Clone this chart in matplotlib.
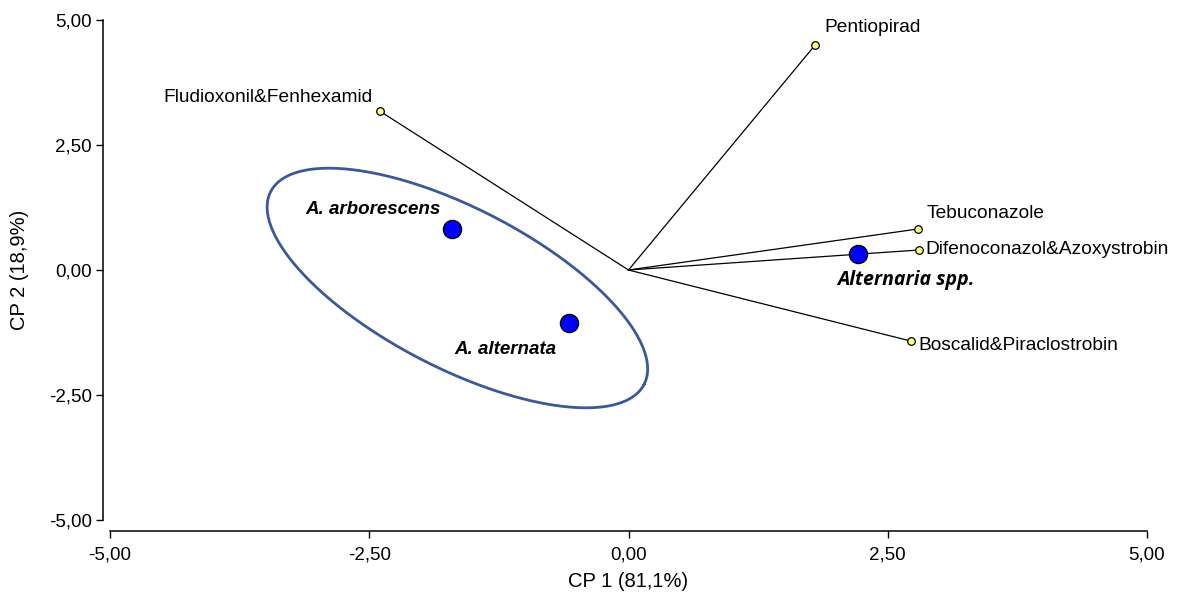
import numpy as np
import matplotlib.pyplot as plt
from matplotlib.ticker import FuncFormatter

plt.rcParams['font.family'] = ['Liberation Sans', 'DejaVu Sans']

# loadings (fungicides)
fung_names = ['Pentiopirad', 'Fludioxonil&Fenhexamid', 'Tebuconazole',
              'Difenoconazol&Azoxystrobin', 'Boscalid&Piraclostrobin']
fung_x = [1.80, -2.40, 2.79, 2.80, 2.72]
fung_y = [4.50, 3.18, 0.82, 0.40, -1.42]

# scores (species)
sp_names = ['A. arborescens', 'A. alternata', 'Alternaria spp.']
sp_x = [-1.70, -0.57, 2.21]
sp_y = [0.82, -1.06, 0.32]

# confidence ellipse around the two species (centre + conjugate semi-axes)
ell_center = (-1.65, -0.36)
ell_u = (1.80, -1.93)
ell_v = (-0.355, -1.42)

fig = plt.figure(figsize=(11.84, 5.94), dpi=100)
ax = fig.add_axes([110 / 1184, 1 - 520 / 594, 1037 / 1184, 500 / 594])

for x, y in zip(fung_x, fung_y):
    ax.plot([0, x], [0, y], color='black', lw=0.9, zorder=2)
ax.scatter(fung_x, fung_y, s=30, color='#FFFF80', edgecolors='black',
           linewidths=0.9, zorder=4)

t = np.linspace(0, 2 * np.pi, 300)
ex = ell_center[0] + np.cos(t) * ell_u[0] + np.sin(t) * ell_v[0]
ey = ell_center[1] + np.cos(t) * ell_u[1] + np.sin(t) * ell_v[1]
ax.plot(ex, ey, color='#3B5998', lw=2.0, zorder=3)

ax.scatter(sp_x, sp_y, s=170, color='#0000FF', edgecolors='black',
           linewidths=1.0, zorder=5)

fs = 13.8
offs = {
    'Pentiopirad': ((9, 18), 'left'),
    'Fludioxonil&Fenhexamid': ((-7, 14), 'right'),
    'Tebuconazole': ((9, 16), 'left'),
    'Difenoconazol&Azoxystrobin': ((7, 0), 'left'),
    'Boscalid&Piraclostrobin': ((8, -5), 'left'),
}
for name, x, y in zip(fung_names, fung_x, fung_y):
    (dx, dy), ha = offs[name]
    ax.annotate(name, (x, y), xytext=(dx, dy), textcoords='offset pixels',
                ha=ha, va='center', fontsize=fs)

ax.annotate(sp_names[0], (sp_x[0], sp_y[0]), xytext=(-79, 20),
            textcoords='offset pixels', ha='center', va='center',
            fontsize=13.5, fontweight='bold', fontstyle='italic')
ax.annotate(sp_names[1], (sp_x[1], sp_y[1]), xytext=(-64, -26),
            textcoords='offset pixels', ha='center', va='center',
            fontsize=13.5, fontweight='bold', fontstyle='italic')
ax.annotate(sp_names[2], (sp_x[2], sp_y[2]), xytext=(48, -26),
            textcoords='offset pixels', ha='center', va='center',
            fontsize=14, fontweight='bold', fontstyle='italic',
            family=['Open Sans'])

ax.set_xlim(-5, 5)
ax.set_ylim(-5, 5)
ticks = [-5, -2.5, 0, 2.5, 5]
ax.set_xticks(ticks)
ax.set_yticks(ticks)
fmt = FuncFormatter(lambda v, p: f'{v:.2f}'.replace('.', ','))
ax.xaxis.set_major_formatter(fmt)
ax.yaxis.set_major_formatter(fmt)
ax.tick_params(labelsize=13.5, length=5, width=1.0, direction='out')
ax.tick_params(axis='x', pad=6)
ax.tick_params(axis='y', pad=3)

for s in ['top', 'right']:
    ax.spines[s].set_visible(False)
ax.spines['left'].set_position(('outward', 5))
ax.spines['bottom'].set_position(('outward', 8))
ax.spines['left'].set_linewidth(1.1)
ax.spines['bottom'].set_linewidth(1.1)

ax.set_xlabel('CP 1 (81,1%)', fontsize=14.5, labelpad=6)
ax.set_ylabel('CP 2 (18,9%)', fontsize=14.5, labelpad=14)

fig.savefig('out.png', dpi=100)
